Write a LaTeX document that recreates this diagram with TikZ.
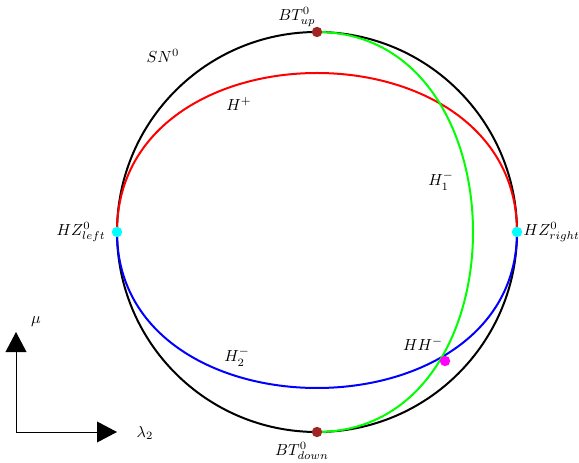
\documentclass[tikz,border=0pt]{standalone}
\usepackage{amsmath,amssymb}
\usepackage{tikz}
\usetikzlibrary{arrows.meta,backgrounds}
\definecolor{btbrown}{RGB}{160,36,36}
\definecolor{hzcyan}{RGB}{0,255,255}
\definecolor{hhmag}{RGB}{255,0,255}
\definecolor{hgreen}{RGB}{0,255,0}
\tikzset{lbl/.style={draw=none, fill=none, inner sep=1pt},
  pt/.style={circle, fill=#1, draw=none, minimum size=6.5pt, inner sep=0pt},
  crv/.style={draw=#1, line width=1.25pt}}

\begin{document}
\begin{tikzpicture}[x=0.625pt, y=-0.625pt]
  \useasboundingbox (0,0) rectangle (579,463);
  % bifurcation points
  \coordinate (o) at (317, 232);
  \node[pt=btbrown] (btu) at (317, 32)  {};
  \node[pt=btbrown] (btd) at (317, 432) {};
  \node[pt=hzcyan]  (hzl) at (117, 232) {};
  \node[pt=hzcyan]  (hzr) at (517, 232) {};
  \node[pt=hhmag]   (hh)  at (445, 361) {};
  % curves
  \begin{scope}[on background layer]
    \draw[crv=black]  (o) circle[radius=125pt];
    \draw[crv=red]    (hzl.center) .. controls (117, 20) and (517, 20) .. (hzr.center);
    \draw[crv=blue]   (hzl.center) .. controls (117, 440) and (517, 440) .. (hzr.center);
    \draw[crv=hgreen] (btu.center) .. controls (525, 32) and (525, 432) .. (btd.center);
  \end{scope}
  % labels
  \node[lbl] (lbtu) at (297, 17)  {$BT^0_{up}$};
  \node[lbl] (lbtd) at (302, 451) {$BT^0_{down}$};
  \node[lbl, left=6pt]  (lhzl) at (hzl.center) {$HZ^0_{left}$};
  \node[lbl, right=3pt] (lhzr) at (hzr.center) {$HZ^0_{right}$};
  \node[lbl] (lsn)  at (163, 56)  {$SN^0$};
  \node[lbl] (lhp)  at (239, 104) {$H^+$};
  \node[lbl] (lh1)  at (441, 181) {$H_1^-$};
  \node[lbl] (lh2)  at (237, 357) {$H_2^-$};
  \node[lbl] (lhh)  at (423, 344) {$HH^-$};
  % axes
  \coordinate (ax) at (16, 432);
  \coordinate (axm) at (16, 332);
  \coordinate (axl) at (117, 432);
  \draw[line width=0.6pt, -{Triangle[length=12.5pt, width=13pt]}] (ax) -- (axm);
  \draw[line width=0.6pt, -{Triangle[length=12.5pt, width=13pt]}] (ax) -- (axl);
  \node[lbl] (lmu)  at (36, 322)  {$\mu$};
  \node[lbl] (llam) at (145, 433) {$\lambda_2$};
\end{tikzpicture}
\end{document}
